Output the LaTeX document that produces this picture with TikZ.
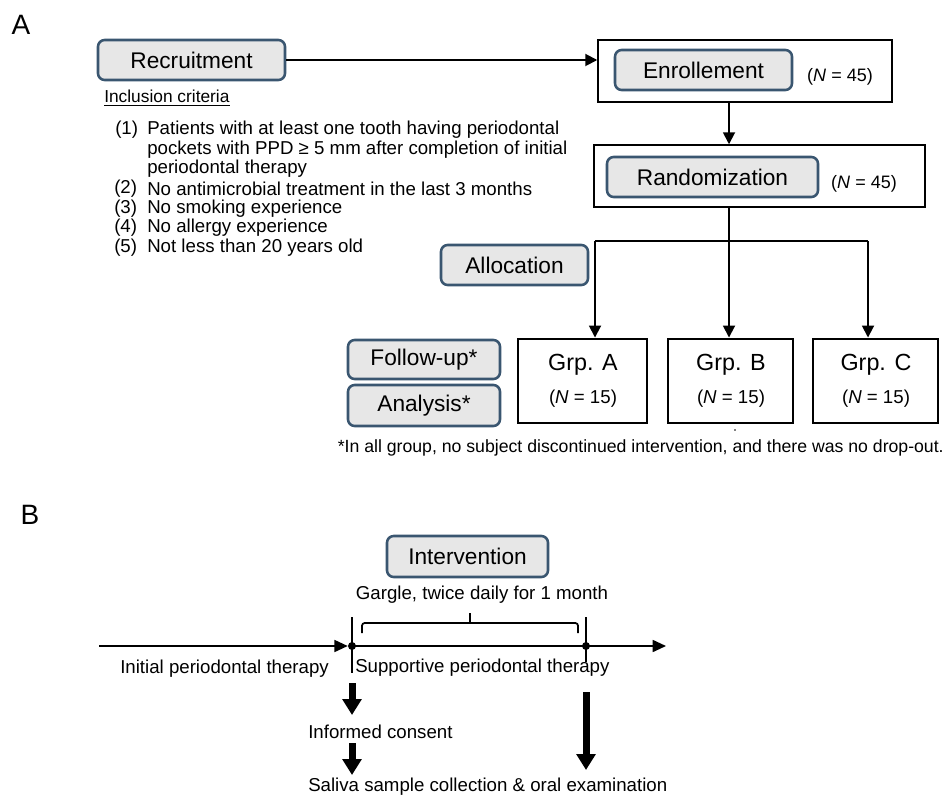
\documentclass[tikz,border=0pt]{standalone}
\usepackage{fontspec}
\setmainfont{Liberation Sans}
\usetikzlibrary{arrows.meta,calc}
\definecolor{boxblue}{RGB}{58,86,112}
\definecolor{boxgray}{RGB}{231,231,231}
\tikzset{
  rbox/.style={draw=boxblue, fill=boxgray, line width=1.9pt, rounded corners=5pt, inner sep=0pt, font=\fontsize{17}{20}\selectfont},
  obox/.style={draw=black, line width=1.1pt, inner sep=0pt},
  gbox/.style={draw=black, line width=2.2pt, inner sep=0pt},
  arr/.style={-{Triangle[width=9pt,length=9pt]}, line width=1.4pt},
  tl/.style={line width=1.3pt},
  tlarr/.style={tl, -{Triangle[width=9pt,length=10pt]}},
  fat/.style={line width=5.25pt, -{Triangle[width=14pt,length=12pt]}},
  txt/.style={inner sep=0pt, anchor=west, font=\fontsize{14}{16}\selectfont},
  ntxt/.style={inner sep=0pt, font=\fontsize{13.5}{16}\selectfont},
  gtxt/.style={inner sep=0pt, font=\fontsize{17.5}{20}\selectfont},
  lettr/.style={inner sep=0pt, font=\fontsize{21}{24}\selectfont},
}
\begin{document}
\begin{tikzpicture}[x=0.75pt,y=-0.75pt]
\useasboundingbox (0,0) rectangle (948,795);

% ---------------- Part A ----------------
\node[lettr] (la) at (21,25) {A};

\node[rbox, minimum width=140.25pt, minimum height=30pt] (rec) at (191.5,60) {Recruitment};

\node[obox, minimum width=220.5pt, minimum height=46.5pt] (enrO) at (745,71) {};
\node[rbox, minimum width=132.75pt, minimum height=30pt] (enr) at (703.5,70) {Enrollement};
\node[ntxt] (n1) at (840,77) {(\textit{N} = 45)};

\node[obox, minimum width=248.25pt, minimum height=46.5pt] (rndO) at (759.5,176) {};
\node[rbox, minimum width=158.25pt, minimum height=30pt] (rnd) at (712.5,177) {Randomization};
\node[ntxt] (n2) at (864,184) {(\textit{N} = 45)};

\draw[arr] (rec.east) -- (rec.east -| enrO.west);

\coordinate (ax) at (729,0);
\draw[arr] (ax |- enrO.south) -- (ax |- rndO.north);

\node[inner sep=0pt, anchor=west, font=\fontsize{13}{15}\selectfont] (inc) at (104,98) {\underline{Inclusion criteria}};

\node[txt] (l1) at (115,130) {(1)};
\node[txt] (t1) at (147,130) {Patients with at least one tooth having periodontal};
\node[txt] (t1b) at (147,149.5) {pockets with PPD ≥ 5 mm after completion of initial};
\node[txt] (t1c) at (147,169) {periodontal therapy};
\node[txt] (l2) at (114,189) {(2)};
\node[txt] (t2) at (147,189) {No antimicrobial treatment in the last 3 months};
\node[txt] (l3) at (114,208.5) {(3)};
\node[txt] (t3) at (147,208.5) {No smoking experience};
\node[txt] (l4) at (114,228) {(4)};
\node[txt] (t4) at (147,228) {No allergy experience};
\node[txt] (l5) at (114,247.5) {(5)};
\node[txt] (t5) at (147,247.5) {Not less than 20 years old};

\node[rbox, minimum width=110.25pt, minimum height=30pt] (alloc) at (514.5,265) {Allocation};

\node[gbox, minimum width=96.75pt, minimum height=63pt] (ga) at (582.5,381) {};
\node[gbox, minimum width=93.75pt, minimum height=63pt] (gb) at (730.5,381) {};
\node[gbox, minimum width=93.75pt, minimum height=63pt] (gc) at (875.5,381) {};
\node[gtxt] (ga1) at (583,365) {Grp. A};
\node[gtxt] (gb1) at (731,365) {Grp. B};
\node[gtxt] (gc1) at (876,365) {Grp. C};
\node[ntxt, font=\fontsize{14}{16}\selectfont] (ga2) at (583,399) {(\textit{N} = 15)};
\node[ntxt, font=\fontsize{14}{16}\selectfont] (gb2) at (731,399) {(\textit{N} = 15)};
\node[ntxt, font=\fontsize{14}{16}\selectfont] (gc2) at (876,399) {(\textit{N} = 15)};

\coordinate (jn) at (729,241);
\coordinate (jl) at (595,241);
\coordinate (jr) at (868,241);
\draw[line width=1.4pt] (ax |- rndO.south) -- (jn);
\draw[line width=1.4pt] (jl) -- (jr);
\draw[arr] (jl) -- (jl |- ga.north);
\draw[arr] (jn) -- (jn |- gb.north);
\draw[arr] (jr) -- (jr |- gc.north);

\node[rbox, minimum width=114pt, minimum height=29.25pt] (fu) at (424,359.5) {Follow-up*};
\node[rbox, minimum width=114pt, minimum height=30.75pt] (an) at (424,405.5) {Analysis*};

\fill (735,430) circle (0.6pt);
\node[inner sep=0pt, anchor=east, font=\fontsize{13.25}{15}\selectfont] (fn) at (944,448) {*In all group, no subject discontinued intervention, and there was no drop-out.};

% ---------------- Part B ----------------
\node[lettr] (lb) at (30,515) {B};

\node[rbox, minimum width=120.75pt, minimum height=30.75pt] (int) at (467.5,556.5) {Intervention};
\node[inner sep=0pt, font=\fontsize{14}{16}\selectfont] (garg) at (482,595) {Gargle, twice daily for 1 month};

\coordinate (t0) at (99,646);
\node[circle, fill, inner sep=0pt, minimum size=6pt] (d1) at (352,646) {};
\node[circle, fill, inner sep=0pt, minimum size=6pt] (d2) at (586,646) {};
\coordinate (tend) at (666,646);

\draw[tlarr] (t0) -- (d1.west);
\draw[tlarr] (d1.center) -- (tend);
\draw[tl] ($(d1)+(0,-29)$) -- ($(d1)+(0,27)$);
\draw[tl] ($(d2)+(0,-29)$) -- ($(d2)+(0,16)$);

% brace
\draw[tl, rounded corners=2pt] (362,633) -- (362,623) -- (578,623) -- (578,633);
\draw[tl] (470,623) -- (470,613);

\node[txt] (ipt) at (120,669) {Initial periodontal therapy};
\node[txt] (spt) at (355,668) {Supportive periodontal therapy};

\draw[fat] ($(d1)+(0,37)$) -- ($(d1)+(0,69)$);
\node[txt] (ic) at (308,732) {Informed consent};
\draw[fat] ($(d1)+(0,97)$) -- ($(d1)+(0,129)$);
\draw[fat] ($(d2)+(0,46)$) -- ($(d2)+(0,124)$);
\node[txt] (sal) at (308,787) {Saliva sample collection \& oral examination};
\end{tikzpicture}
\end{document}
